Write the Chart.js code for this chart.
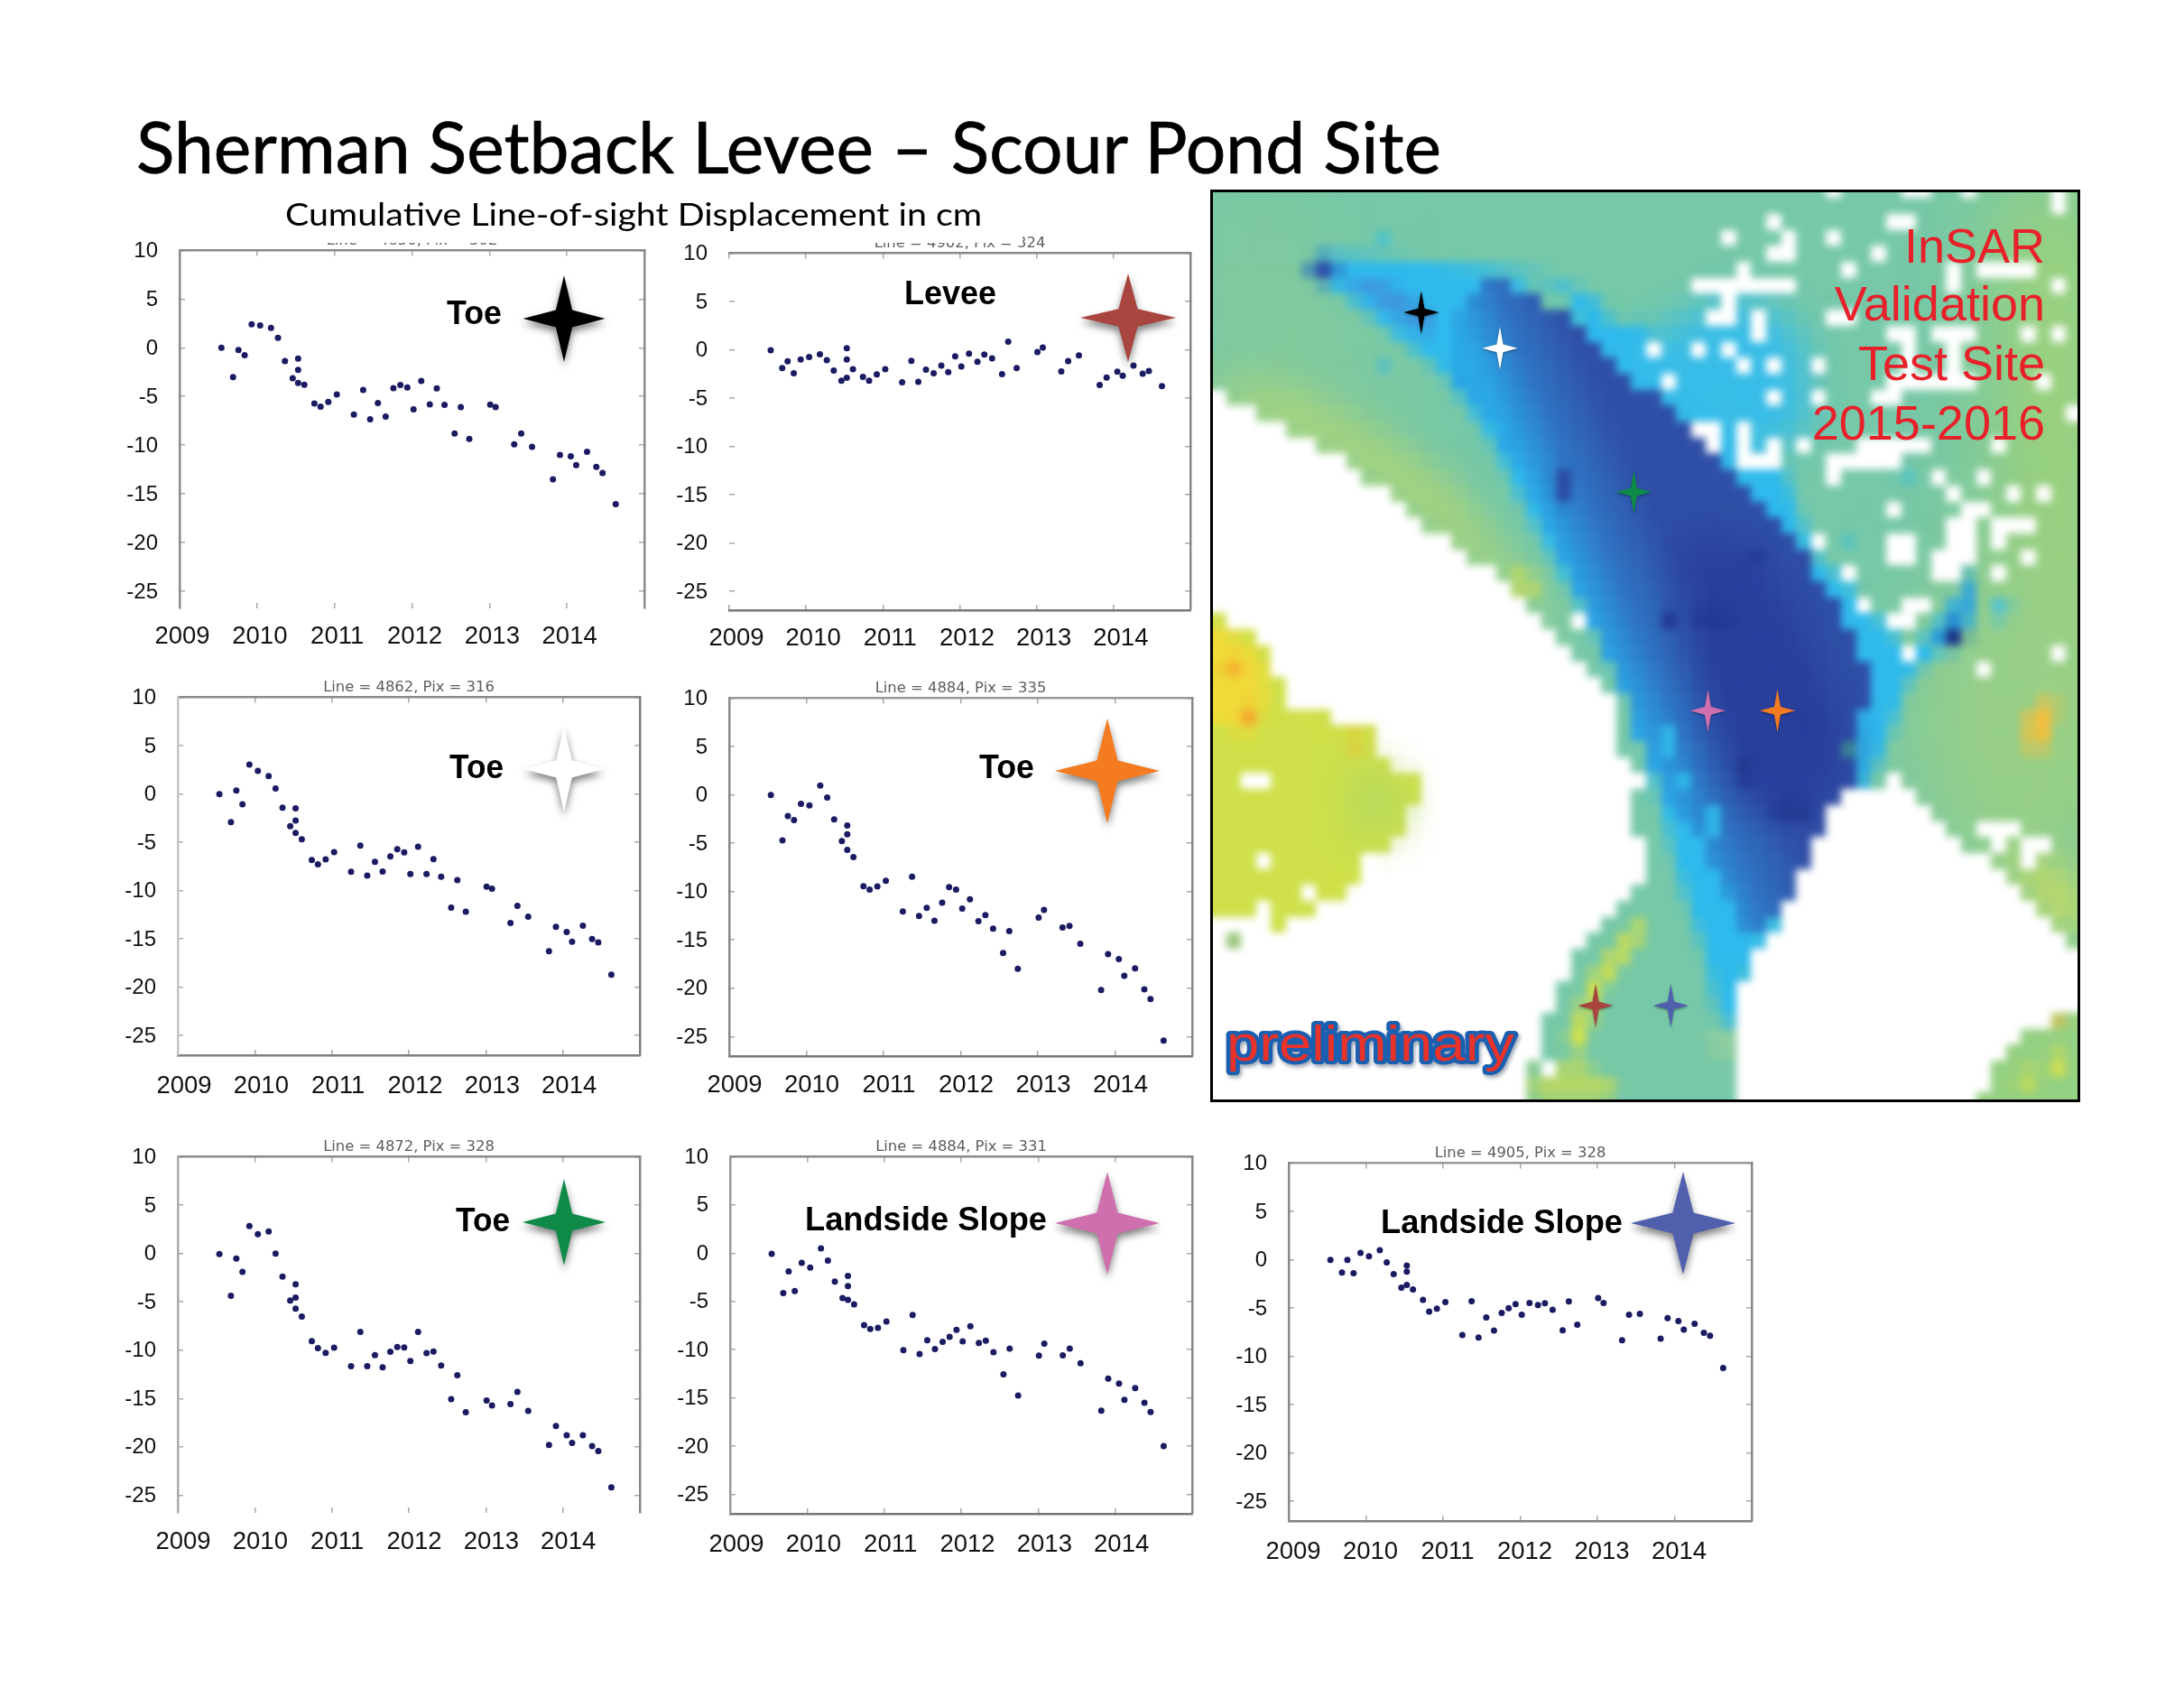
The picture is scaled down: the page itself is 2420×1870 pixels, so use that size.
<!DOCTYPE html>
<html><head><meta charset="utf-8">
<script src="https://cdn.jsdelivr.net/npm/chart.js@4"></script>
<style>
html,body{margin:0;padding:0;background:#fff;width:2420px;height:1870px;overflow:hidden}
canvas{position:absolute}
svg{position:absolute;overflow:visible}
#cover{position:absolute;left:300px;top:225px;width:833px;height:44px;background:#fff}
</style></head><body>
<script>
const dates=[2009.54,2009.69,2009.76,2009.84,2009.93,2010.04,2010.18,2010.27,2010.36,2010.46,2010.53,2010.53,2010.53,2010.61,2010.74,2010.82,2010.92,2011.03,2011.25,2011.37,2011.46,2011.56,2011.66,2011.76,2011.85,2011.94,2012.02,2012.12,2012.23,2012.32,2012.42,2012.55,2012.63,2012.74,2013.01,2013.08,2013.32,2013.41,2013.55,2013.82,2013.91,2014.05,2014.12,2014.26,2014.38,2014.46,2014.63];
const toeBlack=[0,-3.0,-.22,-.77,2.41,2.29,2.04,1.02,-1.36,-3.12,-1.11,-2.26,-3.61,-3.8,-5.72,-6.05,-5.56,-4.79,-6.86,-4.32,-7.35,-5.68,-7.07,-4.14,-3.83,-4.08,-6.33,-3.4,-5.81,-4.17,-5.87,-8.8,-6.09,-9.36,-5.84,-6.09,-9.92,-8.8,-10.16,-13.5,-11.0,-11.15,-12.05,-10.69,-12.23,-12.85,-16.06];
const levee=[-.06,-1.9,-1.2,-2.43,-1.0,-.75,-.47,-1.09,-2.15,-3.2,.16,-1.0,-2.9,-2.02,-2.8,-3.2,-2.55,-2.02,-3.36,-1.15,-3.33,-2.05,-2.43,-1.65,-2.33,-.68,-1.74,-.4,-1.24,-.5,-.9,-2.52,.84,-1.9,-.25,.22,-2.24,-1.18,-.59,-3.64,-2.89,-2.27,-2.7,-1.65,-2.49,-2.21,-3.76];
const toeWhite=[-.03,-2.93,.34,-1.09,3.02,2.37,1.84,.56,-1.43,-3.36,-1.5,-2.77,-4.05,-4.7,-6.85,-7.29,-6.79,-6.04,-8.07,-5.36,-8.47,-7.04,-8.04,-6.48,-5.73,-6.07,-8.29,-5.48,-8.29,-6.76,-8.57,-11.78,-8.94,-12.21,-9.6,-9.81,-13.36,-11.59,-12.71,-16.29,-13.77,-14.3,-15.3,-13.64,-15.02,-15.39,-18.72];
const toeOrange=[-.03,-4.7,-2.18,-2.61,-.93,-1.09,.96,-.28,-2.55,-4.79,-3.17,-4.07,-5.69,-6.44,-9.45,-9.79,-9.48,-8.89,-12.06,-8.46,-12.53,-11.69,-13.03,-11.16,-9.55,-9.79,-11.75,-10.79,-13.06,-12.44,-13.84,-16.36,-14.09,-18.0,-12.69,-11.91,-13.71,-13.56,-15.39,-20.18,-16.48,-16.98,-18.72,-17.94,-20.12,-21.11,-25.4];
const toeGreen=[-.06,-4.38,-.53,-1.9,2.83,1.99,2.27,-.03,-2.39,-4.88,-3.2,-4.57,-5.72,-6.53,-9.08,-9.79,-10.29,-9.76,-11.66,-8.12,-11.66,-10.51,-11.78,-10.17,-9.67,-9.73,-11.13,-8.12,-10.32,-10.14,-11.6,-15.08,-12.59,-16.42,-15.2,-15.73,-15.58,-14.33,-16.29,-19.81,-17.85,-18.81,-19.59,-18.81,-19.93,-20.43,-24.19];
const slopePink=[-.06,-4.14,-1.9,-3.92,-1.0,-1.49,.5,-.78,-2.95,-4.66,-2.36,-3.42,-4.85,-5.32,-7.46,-7.87,-7.74,-7.09,-10.07,-6.41,-10.45,-9.02,-9.95,-9.2,-8.68,-7.96,-9.14,-7.59,-9.3,-9.08,-10.26,-12.56,-9.89,-14.77,-10.63,-9.39,-10.6,-9.89,-11.41,-16.32,-13.0,-13.53,-15.2,-13.99,-15.52,-16.48,-19.99];
const slopeBlue=[-.03,-1.34,-.03,-1.4,.69,.34,.97,-.28,-1.5,-2.9,-.62,-1.25,-2.62,-3.08,-4.17,-5.39,-5.08,-4.39,-7.82,-4.3,-8.07,-5.98,-7.35,-5.51,-5.02,-4.61,-5.7,-4.49,-4.7,-4.52,-5.2,-7.32,-4.33,-6.73,-3.99,-4.49,-8.35,-5.7,-5.61,-8.19,-6.07,-6.36,-7.26,-6.64,-7.57,-7.88,-11.21];
const xTicks=[2009,2010,2011,2012,2013,2014,2015];
const xTickLabels=['2009','2010','2011','2012','2013','2014',''];
const yTicks=[10,5,0,-5,-10,-15,-20,-25];

const panels=[
 {vals:toeBlack,title:'Line = 4850, Pix = 302',L:199,R:714,T:277,B:674,min:-26.76,off:3,xp:15,bl:'#8a8a8a',bb:null,br:'#8a8a8a',bt:'#8a8a8a'},
 {vals:levee,title:'Line = 4902, Pix = 324',L:808,R:1319,T:280,B:676,min:-26.96,off:8,xp:15,bl:null,bb:'#777',br:'#888',bt:'#8a8a8a'},
 {vals:toeWhite,title:'Line = 4862, Pix = 316',L:197,R:709,T:772,B:1169,min:-27.06,off:7,xp:18,bl:'#c4c4c4',bb:'#808080',br:'#808080',bt:'#8a8a8a'},
 {vals:toeOrange,title:'Line = 4884, Pix = 335',L:808,R:1321,T:773,B:1170,min:-27.02,off:6,xp:16,bl:'#888',bb:'#777',br:'#888',bt:'#999'},
 {vals:toeGreen,title:'Line = 4872, Pix = 328',L:197,R:709,T:1281,B:1676,min:-26.83,off:6,xp:16,bl:'#aaa',bb:null,br:'#888',bt:'#8a8a8a'},
 {vals:slopePink,title:'Line = 4884, Pix = 331',L:809,R:1321,T:1281,B:1677,min:-27.02,off:7,xp:18,bl:'#999',bb:'#777',br:'#888',bt:'#8a8a8a'},
 {vals:slopeBlue,title:'Line = 4905, Pix = 328',L:1428,R:1941,T:1288,B:1685,min:-27.06,off:5,xp:18,bl:'#888',bb:'#808080',br:'#888',bt:'#999'}
];
const setTicks=a=>s=>{s.ticks=a.map(v=>({value:v}));};
const FONT='"Liberation Sans",Arial,sans-serif';
const tickLen=-6;
panels.forEach(p=>{
  const c=document.createElement('canvas');
  const ml=100,mr=100,mt=30,mb=60;
  c.width=p.R-p.L+ml+mr;c.height=p.B-p.T+mt+mb;
  c.style.left=(p.L-ml)+'px';c.style.top=(p.T-mt)+'px';
  c.style.width=c.width+'px';c.style.height=c.height+'px';
  document.body.appendChild(c);
  const bord=col=>col?{display:true,color:col,width:2.5}:{display:false};
  const grid={drawOnChartArea:false,drawTicks:true,tickLength:tickLen,color:'#a8a8a8',lineWidth:1.5};
  const chart=new Chart(c,{type:'scatter',
    data:{datasets:[{data:dates.map((x,i)=>({x,y:p.vals[i]})),pointRadius:3.5,pointHoverRadius:3.5,backgroundColor:'#1b1b63',borderWidth:0}]},
    options:{responsive:false,maintainAspectRatio:false,animation:false,devicePixelRatio:1,
      layout:{padding:0},
      plugins:{legend:{display:false},tooltip:{enabled:false},
        title:{display:true,text:p.title,color:'#5c5c5c',
          font:{family:'"DejaVu Sans"',size:16.4,weight:'normal',lineHeight:1.2},padding:{top:9.3,bottom:1}}},
      scales:{
        x:{type:'linear',position:'bottom',min:2009,max:2015,afterBuildTicks:setTicks(xTicks),
          afterFit:s=>{s.height=mb;},grid,border:bord(p.bb),
          ticks:{autoSkip:false,maxRotation:0,labelOffset:p.off,padding:p.xp-tickLen,color:'#111',font:{family:FONT,size:27.5},
            callback:v=>xTickLabels[xTicks.indexOf(v)]}},
        x2:{type:'linear',position:'top',min:2009,max:2015,afterBuildTicks:setTicks(xTicks),
          afterFit:s=>{s.height=0;},grid,border:bord(p.bt),ticks:{display:false}},
        y:{type:'linear',position:'left',min:p.min,max:10,afterBuildTicks:setTicks(yTicks),
          afterFit:s=>{s.width=ml;},grid,border:bord(p.bl),
          ticks:{autoSkip:false,labelOffset:1,padding:24-tickLen,color:'#111',font:{family:FONT,size:24},
            callback:v=>String(v)}},
        y2:{type:'linear',position:'right',min:p.min,max:10,afterBuildTicks:setTicks(yTicks),
          afterFit:s=>{s.width=mr;},grid,border:bord(p.br),ticks:{display:false}}
      }}});
  const d=Math.round(chart.chartArea.top-mt);
  if(d>0){chart.resize(c.width,(p.B-p.T+mt+mb)+d);c.style.top=(p.T-mt-d)+'px';}
});

const cover=document.createElement('div');cover.id='cover';document.body.appendChild(cover);

function starPts(cx,cy,w,h,k){const a=w*k,b=h*k;
 return [[cx,cy-h],[cx+a,cy-b],[cx+w,cy],[cx+a,cy+b],[cx,cy+h],[cx-a,cy+b],[cx-w,cy],[cx-a,cy-b]].map(q=>q.join(',')).join(' ');}

/* ---------- map picture: painted on a coarse grid, then enlarged ---------- */
const GW=58,GH=59,CW=16.62,CH=17.7,OX=1342,OY=201.5,VX=1.584,VY=1.507;
const lc=document.createElement('canvas');lc.width=GW;lc.height=GH;
const lg=lc.getContext('2d',{willReadFrequently:true});
lg.fillStyle='#76c8a8';lg.fillRect(0,0,GW,GH);
function layer(draw,blur,crisp){
  const c=document.createElement('canvas');c.width=GW;c.height=GH;
  const g=c.getContext('2d',{willReadFrequently:true});
  g.setTransform(1/(VX*CW),0,0,1/(VY*CH),(1340-OX)/CW,(200-OY)/CH);
  if(blur)g.filter='blur('+blur+'px)';
  draw(g);
  if(crisp){const d=g.getImageData(0,0,GW,GH);for(let i=3;i<d.data.length;i+=4)d.data[i]=d.data[i]>=128?255:0;g.putImageData(d,0,0);}
  lg.drawImage(c,0,0);
}
function P(pts,fill,blur,crisp){layer(g=>{g.beginPath();pts.trim().split(/\s+/).forEach((q,i)=>{const a=q.split(',').map(Number);i?g.lineTo(a[0],a[1]):g.moveTo(a[0],a[1]);});g.closePath();g.fillStyle=typeof fill==='function'?fill(g):fill;g.fill();},blur,crisp);}
function E(cx,cy,rx,ry,fill,blur,crisp){layer(g=>{g.beginPath();g.ellipse(cx,cy,rx,ry,0,0,7);g.fillStyle=fill;g.fill();},blur,crisp);}
const bodyFill=g=>{const l=g.createLinearGradient(650,705,815,630);l.addColorStop(0,'#2ba8e8');l.addColorStop(.45,'#2f72c2');l.addColorStop(1,'#2f4fa6');return l;};

P('1400,0 1568,0 1568,1100 1400,1100','#a8d46c',3);
P('3,20 180,20 130,130 300,290 420,400 3,400','#86cb9a',3);
P('1240,760 1530,540 1530,1300 1340,1140 1240,1000','#98cf88',3);
P('1380,1100 1530,1180 1530,1290','#d6df55',1);
P('1440,890 1470,860 1490,870 1470,950 1430,950','#f4bf3e',.6);
P('3,335 130,340 300,420 430,510 570,680 640,760 590,740 420,610 250,480 100,410 3,360','#aad47a',1);
P('530,650 570,660 580,690 540,690','#cfdc55',.5);
/* cyan halo */
P('170,150 200,125 470,140 610,160 760,240 880,360 1010,480 1060,620 1130,680 1230,790 1330,680 1345,640 1325,750 1230,830 1180,960 1150,1015 1110,1030 1000,1240 950,1300 925,1410 900,1420 885,1330 830,1180 750,890 670,740 585,600 490,430 410,320 260,210','#2fbaec',.7);
P('720,290 790,250 930,180 1040,250 1060,400 980,470 830,400','#38bde8',1);
P('540,165 620,175 650,235 590,215','#74c9a6',.5);
P('690,190 730,200 745,245 700,235','#74c9a6',.5);
E(305,95,14,12,'#3ec0dc',.5);E(305,305,12,12,'#2fb4e6',.5);
E(1222,490,14,12,'#3ec0dc',.5);E(1120,600,12,12,'#3ec0dc',.5);
P('1280,760 1310,700 1340,640 1340,720 1310,790','#2b9fe0',.5);
E(1390,715,18,18,'#4cc2d8',.6);
P('230,165 310,170 400,230 380,260 300,210','#3f96dc',.7);
E(200,150,26,18,'#2d4fa8',.3);
/* dark body */
P('480,160 560,190 650,240 720,310 830,400 930,490 1000,570 1050,630 1090,690 1140,790 1180,850 1130,920 1140,1000 1100,1040 1060,1120 1000,1220 940,1260 910,1200 870,1110 800,1040 730,870 650,700 560,520 490,400 430,330 410,230',bodyFill,0,true);
P('820,590 960,610 1040,740 1130,950 1060,1070 920,1030 850,800','#293f9c',1);
E(805,735,14,16,'#223790',.3);E(885,730,36,14,'#223790',.3);E(962,628,14,12,'#223790',.3);
E(940,985,14,28,'#24398f',.3);E(620,510,15,32,'#2c4aa3',.3);E(1020,1050,40,18,'#243a92',.5);
E(1305,760,19,16,'#1d3588',.3);
P('790,915 820,915 820,960 795,960','#2fb4e6',0,true);
P('875,1045 915,1045 895,1095 875,1095','#2fb4e6',0,true);
E(830,1003,14,14,'#2fb4e6',0,true);
E(1122,945,15,10,'#47b98e',.2);
/* lower channel */
P('860,1130 900,1180 930,1280 925,1400 905,1420 880,1300','#2fbaec',.5);
P('925,1400 945,1440 900,1480 860,1430','#8ccca0',.5);
P('750,1235 770,1250 690,1350 650,1460 625,1440 670,1330','#d2e04c',.5);
P('560,1490 640,1470 720,1510 700,1540 570,1540','#b4d668',.5);
/* no-data areas */
P('0,350 60,380 250,470 330,540 420,600 500,660 590,730 640,800 710,860 730,960 760,1010 745,1040 770,1160 720,1210 640,1300 570,1450 560,1560 0,1560','#fff',0,true);
P('925,1560 925,1340 1000,1240 1060,1130 1110,1020 1230,995 1240,1040 1350,1120 1530,1285 1568,1300 1568,1378 1527,1378 1430,1425 1362,1510 1340,1560','#fff',0,true);
P('1568,1378 1527,1378 1430,1425 1362,1510 1340,1560 1568,1560','#94d082',0,true);
E(1489,1473,18,18,'#dde244',.5);E(1436,1500,18,18,'#c6dc55',.5);E(1495,1400,14,12,'#f0b840',.5);
/* left lobe */
P('0,720 50,745 105,790 130,860 290,920 300,960 370,1000 350,1090 280,1150 200,1215 130,1250 0,1225','#cfe04a',0,true);
P('0,740 50,760 95,800 100,880 70,930 0,900','#f0da38',.5);
E(42,812,20,18,'#f4b02f',.4);E(68,893,16,16,'#f4aa2f',.4);E(258,938,16,14,'#f0c030',.4);
P('250,960 350,1010 340,1080 240,1100','#b7d95c',.8);
E(44,1268,13,13,'#9cc87e',0,true);
const trSpecks=[[[165,178]],[[318,122],[368,178],[318,230]],[[515,178]],[[662,228]],[[565,283]],[[215,283],[250,335],[385,335]],[[55,335],[130,335],[175,390],[118,445]],[[265,425],[265,510]],[[65,548]],[[165,545],[218,603]],[[318,603]],[[465,603]],[[318,705]],[[465,705]],[[65,810],[118,865]],[[215,800],[215,925],[270,925],[318,865]],[[415,865]],[[515,25]],[[765,25],[820,25]],[[965,25]],[[1265,30],[1265,85]],[[700,122],[780,122]],[[1000,283],[1180,283]],[[915,283],[915,340]],[[1265,335]],[[515,440],[560,440]],[[700,490],[770,490],[770,600]],[[860,490]],[[965,490],[915,540],[915,650]],[[800,660],[960,660]],[[1165,490]],[[1265,490]],[[1215,650]],[[1310,760]],[[665,700],[740,670]],[[515,970],[560,910],[730,910]],[[600,865],[830,850]],[[640,910],[730,880]],[[860,965],[915,1025]],[[1012,970]],[[1112,1025]],[[1215,1025]],[[1065,865]],[[712,1080]],[[1012,1075],[965,1130],[915,1130]],[[965,1130],[965,1230],[860,1230],[915,1300]],[[915,1230],[915,1180]],[[1060,1185],[1112,1130],[1180,1130]],[[760,1180],[710,1240],[775,1240]],[[760,1180],[760,1240]],[[465,1185]],[[1162,1235]],[[565,1290]],[[1065,1290]]];
const otherSpecks=[[[650,735]],[[65,1003],[105,1003]],[[98,1135]],[[175,1187]],[[282,1135]],[[98,1213]],[[598,1480]],[[1148,710]],[[1195,735],[1255,710]],[[1227,790]],[[1357,815]],[[1490,790]],[[1360,1080],[1385,1110],[1410,1080]],[[1435,1135],[1465,1105]],[[778,283]],[[805,335]],[[1385,655]]];
lg.fillStyle='#fff';
const cell=(rx,ry)=>lg.fillRect(Math.floor((rx-OX)/CW),Math.floor((ry-OY)/CH),1,1);
function walk(line,toReal){line.forEach((q,i)=>{const a=toReal(q);cell(a[0],a[1]);if(i){const b=toReal(line[i-1]);for(let t=0;t<=16;t++)cell(b[0]+(a[0]-b[0])*t/16,b[1]+(a[1]-b[1])*t/16);}});}
trSpecks.forEach(l=>walk(l,q=>[1860+q[0]/3,205+q[1]/3]));
otherSpecks.forEach(l=>walk(l,q=>[1340+q[0]/VX,200+q[1]/VY]));
(function(){
  const c=document.createElement('canvas');c.width=963;c.height=1010;c.style.left='1342px';c.style.top='210px';
  document.body.appendChild(c);
  const g=c.getContext('2d');g.imageSmoothingEnabled=false;
  g.drawImage(lc,0,OY-210,GW*CW,GH*CH);
  g.filter='blur(4.5px)';
  g.drawImage(lc,0,OY-210,GW*CW,GH*CH);
})();

const mapStars=[[372,220,'#000'],[510,280,'#fff'],[745,520,'#0f8a47'],[875,885,'#cf6fae'],[997,885,'#f47b20'],[678,1377,'#a8453f'],[810,1377,'#5060ad']];
document.body.insertAdjacentHTML('beforeend','<svg xmlns="http://www.w3.org/2000/svg" style="left:1340px;top:200px" width="990" height="1040" viewBox="0 0 1568 1567" preserveAspectRatio="none">'+
mapStars.map(s=>'<polygon points="'+starPts(s[0],s[1],31,36,.18)+'" fill="'+s[2]+'" style="filter:drop-shadow(0 2px 2px rgba(0,0,0,.35))"/>').join('')+
'</svg><div style="position:absolute;left:1341px;top:209.5px;width:958px;height:1005px;border:3.5px solid #000"></div>');

/* ---------- text and marker layer ---------- */
const bigStars=[[625,353,45.5,48,'#000'],[1250,352,53,49,'#a8453f'],[625,852,44,47.5,'#fff'],[1227,854,58,58,'#f47b20'],[625,1354,46,48,'#0f8a47'],[1227,1355,58,57,'#cf6fae'],[1865,1355,58,57,'#5060ad']];
const labels=[['Toe',495,359,61],['Levee',1002,337,102],['Toe',498,862,60],['Toe',1085,862,61],['Toe',505,1364,60],['Landside Slope',892,1363,268],['Landside Slope',1530,1366,268]];
const redLines=[['InSAR',291],['Validation',355],['Test Site',421],['2015-2016',487]];
let o='<svg xmlns="http://www.w3.org/2000/svg" style="left:0;top:0" width="2420" height="1870">'+
'<text x="151" y="192" font-family="Lato" font-size="80" fill="#000" stroke="#000" stroke-width=".7" textLength="1446" lengthAdjust="spacingAndGlyphs">Sherman Setback Levee – Scour Pond Site</text>'+
'<text x="316" y="250" font-family="Lato" font-size="35" fill="#000" textLength="772" lengthAdjust="spacingAndGlyphs">Cumulative Line-of-sight Displacement in cm</text>'+
bigStars.map(s=>'<polygon points="'+starPts(s[0],s[1],s[2],s[3],.2)+'" fill="'+s[4]+'" style="filter:drop-shadow(0 5px 4px rgba(0,0,0,.5))"/>').join('')+
labels.map(l=>'<text x="'+l[1]+'" y="'+l[2]+'" font-family="Liberation Sans" font-weight="bold" font-size="36" fill="#000" textLength="'+l[3]+'" lengthAdjust="spacingAndGlyphs">'+l[0]+'</text>').join('')+
redLines.map(l=>'<text x="2266" y="'+l[1]+'" text-anchor="end" font-family="Liberation Sans" font-size="54" fill="#e8202a">'+l[0]+'</text>').join('')+
'<text x="1359" y="1175" font-family="Liberation Sans" font-size="56" fill="#e8322a" stroke="#1a5fb0" stroke-width="8" stroke-linejoin="round" paint-order="stroke" style="filter:drop-shadow(2px 3px 2px rgba(40,60,90,.45))" textLength="319" lengthAdjust="spacingAndGlyphs">preliminary</text>'+
'</svg>';
document.body.insertAdjacentHTML('beforeend',o);
</script>
</body></html>
